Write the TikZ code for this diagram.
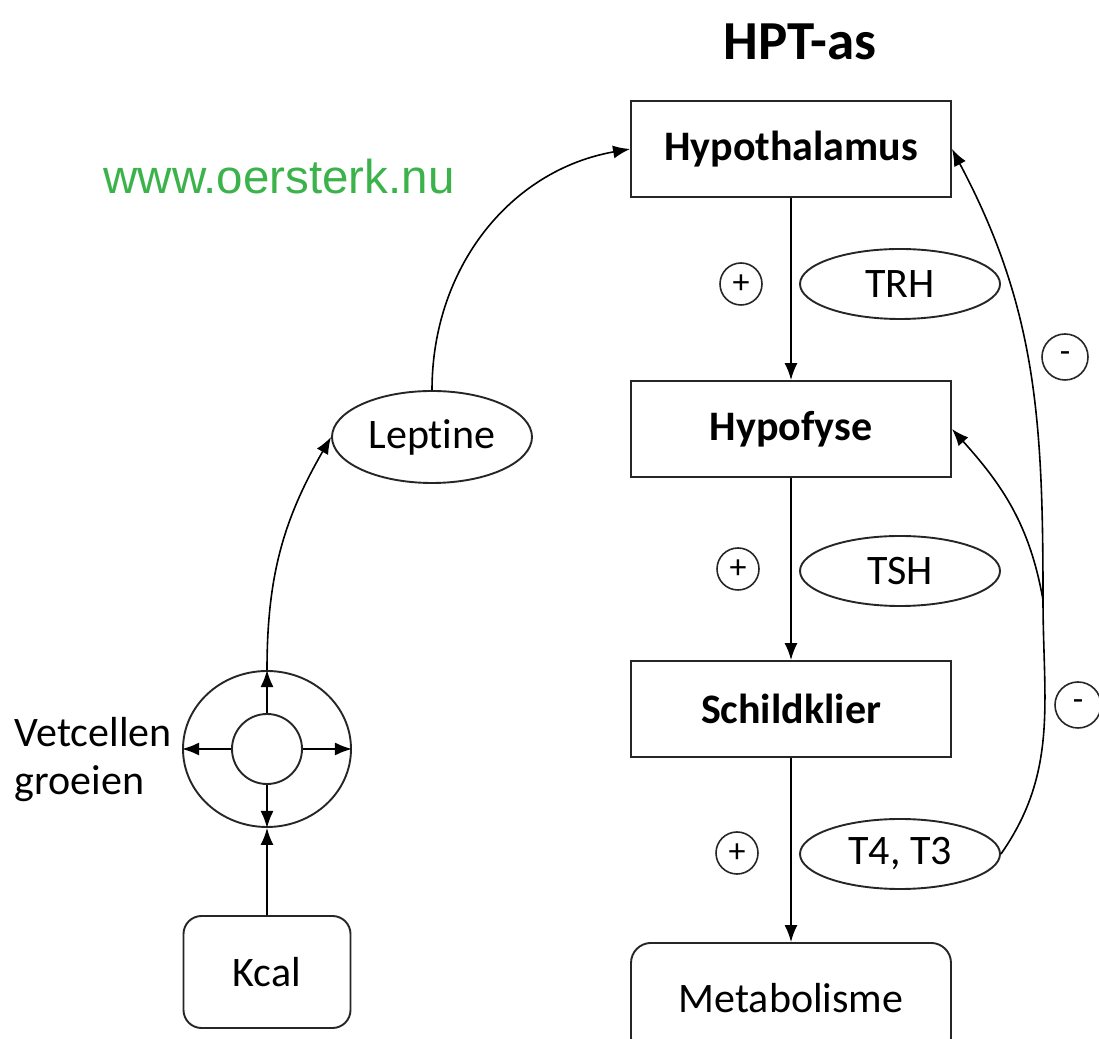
\documentclass[tikz,border=0pt]{standalone}
\usepackage{fontspec}
\setmainfont{Carlito}[Ligatures=NoCommon]
\newfontfamily\urlfont{Liberation Sans}
\usetikzlibrary{shapes,arrows.meta,calc,positioning}
\definecolor{urlgreen}{RGB}{59,179,74}

\begin{document}
\begin{tikzpicture}[x=1pt, y=1pt, line width=1.9pt,
  organ/.style={rectangle, draw=black!85, minimum width=320pt, minimum height=96pt, inner sep=0pt, font=\fontsize{42}{50}\selectfont\bfseries},
  rbox/.style={rectangle, rounded corners=20pt, draw=black!85, inner sep=0pt, font=\fontsize{42}{50}\selectfont},
  hormone/.style={ellipse, draw=black!85, minimum width=200pt, minimum height=70pt, inner sep=0pt, font=\fontsize{42}{50}\selectfont},
  sign/.style={circle, draw=black!85, minimum size=42pt, inner sep=0pt, line width=1.6pt, font=\fontsize{34}{40}\selectfont},
  arr/.style={-{Latex[length=17pt,width=13pt]}, line width=1.6pt}]
  \useasboundingbox (0,0) rectangle (1099,1038);
  \clip (0,0) rectangle (1099,1038);

  \node[font=\fontsize{55}{60}\selectfont\bfseries] (title) at (800,996) {HPT-as};
  \node[font=\urlfont\fontsize{47.5}{55}\selectfont, text=urlgreen] (url) at (279,861) {www.oersterk.nu};

  % HPT axis
  \node[organ] (hypot) at (791,889) {Hypothalamus};
  \node[organ] (hypof) at (791,609) {Hypofyse};
  \node[organ] (schild) at (791,329) {Schildklier};
  \node[rbox, minimum width=320pt, minimum height=115pt, anchor=north] (meta) at (791,96) {\raisebox{6pt}{Metabolisme}};

  \node[sign] (plus1) at (741,754) {+};
  \node[sign] (plus2) at (738,469) {+};
  \node[sign] (plus3) at (737,185) {+};
  \node[hormone] (trh) at (900,754) {TRH};
  \node[hormone] (tsh) at (900,467) {TSH};
  \node[hormone] (t4) at (900,184) {T4, T3};
  \node[sign, minimum size=46pt] (min1) at (1065,681) {-};
  \node[sign, minimum size=46pt] (min2) at (1078,333) {-};

  \draw[arr] (hypot) -- (hypof);
  \draw[arr] (hypof) -- (schild);
  \draw[arr] (schild) -- (meta);

  \coordinate (fb) at (1043,438);
  \draw[arr] (t4.east) to[out=55,in=-90] (fb) to[out=90,in=-62] (hypot.east);
  \draw[arr] (fb) to[out=100,in=-48] (hypof.east);

  % vetcellen
  \node[ellipse, draw=black!85, minimum width=168pt, minimum height=156pt, inner sep=0pt] (outer) at (267,289) {};
  \node[circle, draw=black!85, minimum size=70pt, inner sep=0pt] (inner) at (267,289) {};
  \node[font=\fontsize{42}{48}\selectfont, align=left, anchor=east] (vet) at (176,278) {Vetcellen\\groeien};
  \node[rbox, minimum width=167pt, minimum height=112pt, rounded corners=18pt] (kcal) at (267,66) {Kcal};
  \node[hormone, minimum height=92pt] (lep) at (432,601) {Leptine};

  \draw[arr] (inner.north) -- (outer.north);
  \draw[arr] (inner.south) -- (outer.south);
  \draw[arr] (inner.east) -- (outer.east);
  \draw[arr] (inner.west) -- (outer.west);
  \draw[arr] (kcal) -- (outer.south);
  \draw[arr] (outer.north) to[out=90,in=240] (lep.west);
  \draw[arr] (lep.north) to[out=90,in=190] (hypot.west);

\end{tikzpicture}
\end{document}
